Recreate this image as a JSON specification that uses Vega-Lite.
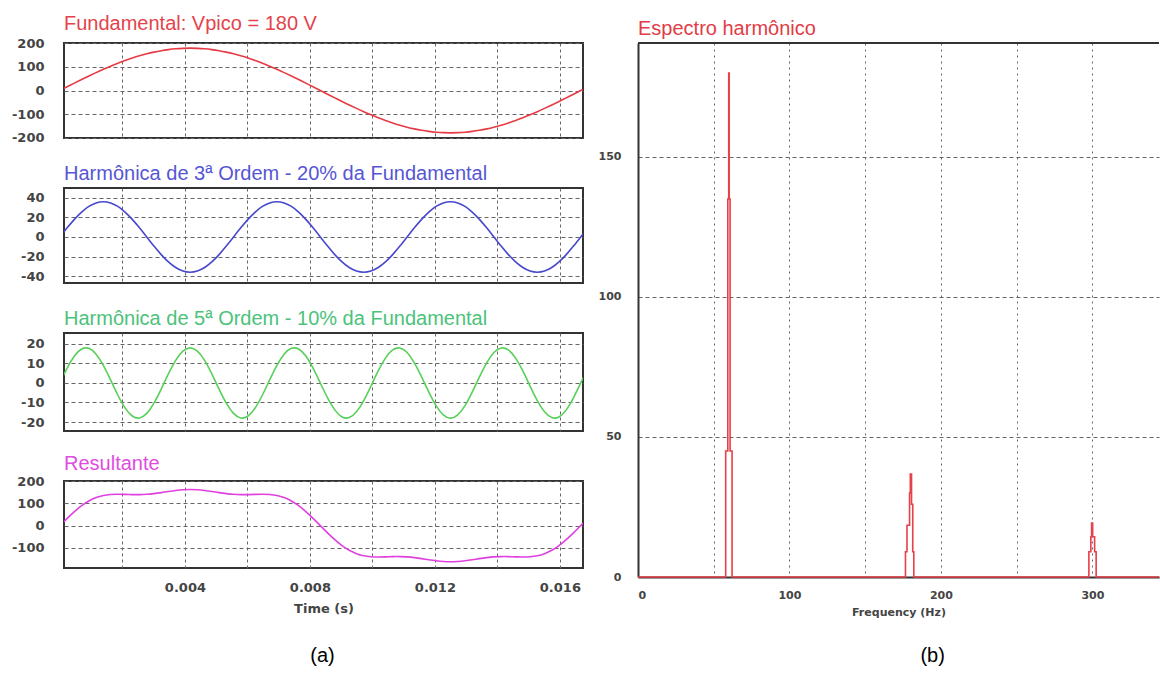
{
  "$schema": "https://vega.github.io/schema/vega-lite/v6.json",
  "background": "white",
  "padding": {"left": 5, "top": 13, "right": 0, "bottom": 5},
  "config": {
    "view": {"stroke": "#333", "strokeWidth": 2},
    "axis": {
      "domain": false,
      "ticks": false,
      "tickSize": 0,
      "grid": true,
      "gridColor": "#666",
      "gridWidth": 1,
      "gridDash": [4, 3],
      "labelFont": "DejaVu Sans",
      "labelFontWeight": "bold",
      "labelFontSize": 13,
      "labelColor": "#444",
      "titleFont": "DejaVu Sans",
      "titleFontWeight": "bold",
      "titleFontSize": 13,
      "titleColor": "#444"
    },
    "axisY": {"labelPadding": 20, "minExtent": 58, "maxExtent": 58},
    "title": {
      "font": "Liberation Sans",
      "fontSize": 20,
      "fontWeight": "normal",
      "anchor": "start",
      "frame": "group",
      "baseline": "alphabetic"
    }
  },
  "datasets": {
    "wave": [
      {"t": 0, "fund": 0, "h3": 0, "h5": 0, "res": 0},
      {"t": 0.000231, "fund": 15.69, "h3": 9.32, "h5": 7.61, "res": 32.62},
      {"t": 0.000463, "fund": 31.26, "h3": 18, "h5": 13.79, "res": 63.05},
      {"t": 0.000694, "fund": 46.59, "h3": 25.46, "h5": 17.39, "res": 89.44},
      {"t": 0.000926, "fund": 61.56, "h3": 31.18, "h5": 17.73, "res": 110.47},
      {"t": 0.001157, "fund": 76.07, "h3": 34.77, "h5": 14.75, "res": 125.59},
      {"t": 0.001389, "fund": 90, "h3": 36, "h5": 9, "res": 135},
      {"t": 0.00162, "fund": 103.24, "h3": 34.77, "h5": 1.57, "res": 139.58},
      {"t": 0.001852, "fund": 115.7, "h3": 31.18, "h5": -6.16, "res": 140.72},
      {"t": 0.002083, "fund": 127.28, "h3": 25.46, "h5": -12.73, "res": 140.01},
      {"t": 0.002315, "fund": 137.89, "h3": 18, "h5": -16.91, "res": 138.98},
      {"t": 0.002546, "fund": 147.45, "h3": 9.32, "h5": -17.93, "res": 138.84},
      {"t": 0.002778, "fund": 155.88, "h3": 0, "h5": -15.59, "res": 140.29},
      {"t": 0.003009, "fund": 163.14, "h3": -9.32, "h5": -10.32, "res": 143.5},
      {"t": 0.003241, "fund": 169.14, "h3": -18, "h5": -3.13, "res": 148.01},
      {"t": 0.003472, "fund": 173.87, "h3": -25.46, "h5": 4.66, "res": 153.07},
      {"t": 0.003704, "fund": 177.27, "h3": -31.18, "h5": 11.57, "res": 157.66},
      {"t": 0.003935, "fund": 179.31, "h3": -34.77, "h5": 16.31, "res": 160.85},
      {"t": 0.004167, "fund": 180, "h3": -36, "h5": 18, "res": 162},
      {"t": 0.004398, "fund": 179.31, "h3": -34.77, "h5": 16.31, "res": 160.85},
      {"t": 0.00463, "fund": 177.27, "h3": -31.18, "h5": 11.57, "res": 157.66},
      {"t": 0.004861, "fund": 173.87, "h3": -25.46, "h5": 4.66, "res": 153.07},
      {"t": 0.005093, "fund": 169.14, "h3": -18, "h5": -3.13, "res": 148.01},
      {"t": 0.005324, "fund": 163.14, "h3": -9.32, "h5": -10.32, "res": 143.5},
      {"t": 0.005556, "fund": 155.88, "h3": 0, "h5": -15.59, "res": 140.29},
      {"t": 0.005787, "fund": 147.45, "h3": 9.32, "h5": -17.93, "res": 138.84},
      {"t": 0.006019, "fund": 137.89, "h3": 18, "h5": -16.91, "res": 138.98},
      {"t": 0.00625, "fund": 127.28, "h3": 25.46, "h5": -12.73, "res": 140.01},
      {"t": 0.006481, "fund": 115.7, "h3": 31.18, "h5": -6.16, "res": 140.72},
      {"t": 0.006713, "fund": 103.24, "h3": 34.77, "h5": 1.57, "res": 139.58},
      {"t": 0.006944, "fund": 90, "h3": 36, "h5": 9, "res": 135},
      {"t": 0.007176, "fund": 76.07, "h3": 34.77, "h5": 14.75, "res": 125.59},
      {"t": 0.007407, "fund": 61.56, "h3": 31.18, "h5": 17.73, "res": 110.47},
      {"t": 0.007639, "fund": 46.59, "h3": 25.46, "h5": 17.39, "res": 89.44},
      {"t": 0.00787, "fund": 31.26, "h3": 18, "h5": 13.79, "res": 63.05},
      {"t": 0.008102, "fund": 15.69, "h3": 9.32, "h5": 7.61, "res": 32.62},
      {"t": 0.008333, "fund": 0, "h3": 0, "h5": 0, "res": 0},
      {"t": 0.008565, "fund": -15.69, "h3": -9.32, "h5": -7.61, "res": -32.62},
      {"t": 0.008796, "fund": -31.26, "h3": -18, "h5": -13.79, "res": -63.05},
      {"t": 0.009028, "fund": -46.59, "h3": -25.46, "h5": -17.39, "res": -89.44},
      {"t": 0.009259, "fund": -61.56, "h3": -31.18, "h5": -17.73, "res": -110.47},
      {"t": 0.009491, "fund": -76.07, "h3": -34.77, "h5": -14.75, "res": -125.59},
      {"t": 0.009722, "fund": -90, "h3": -36, "h5": -9, "res": -135},
      {"t": 0.009954, "fund": -103.24, "h3": -34.77, "h5": -1.57, "res": -139.58},
      {"t": 0.010185, "fund": -115.7, "h3": -31.18, "h5": 6.16, "res": -140.72},
      {"t": 0.010417, "fund": -127.28, "h3": -25.46, "h5": 12.73, "res": -140.01},
      {"t": 0.010648, "fund": -137.89, "h3": -18, "h5": 16.91, "res": -138.98},
      {"t": 0.01088, "fund": -147.45, "h3": -9.32, "h5": 17.93, "res": -138.84},
      {"t": 0.011111, "fund": -155.88, "h3": 0, "h5": 15.59, "res": -140.29},
      {"t": 0.011343, "fund": -163.14, "h3": 9.32, "h5": 10.32, "res": -143.5},
      {"t": 0.011574, "fund": -169.14, "h3": 18, "h5": 3.13, "res": -148.01},
      {"t": 0.011806, "fund": -173.87, "h3": 25.46, "h5": -4.66, "res": -153.07},
      {"t": 0.012037, "fund": -177.27, "h3": 31.18, "h5": -11.57, "res": -157.66},
      {"t": 0.012269, "fund": -179.31, "h3": 34.77, "h5": -16.31, "res": -160.85},
      {"t": 0.0125, "fund": -180, "h3": 36, "h5": -18, "res": -162},
      {"t": 0.012731, "fund": -179.31, "h3": 34.77, "h5": -16.31, "res": -160.85},
      {"t": 0.012963, "fund": -177.27, "h3": 31.18, "h5": -11.57, "res": -157.66},
      {"t": 0.013194, "fund": -173.87, "h3": 25.46, "h5": -4.66, "res": -153.07},
      {"t": 0.013426, "fund": -169.14, "h3": 18, "h5": 3.13, "res": -148.01},
      {"t": 0.013657, "fund": -163.14, "h3": 9.32, "h5": 10.32, "res": -143.5},
      {"t": 0.013889, "fund": -155.88, "h3": 0, "h5": 15.59, "res": -140.29},
      {"t": 0.01412, "fund": -147.45, "h3": -9.32, "h5": 17.93, "res": -138.84},
      {"t": 0.014352, "fund": -137.89, "h3": -18, "h5": 16.91, "res": -138.98},
      {"t": 0.014583, "fund": -127.28, "h3": -25.46, "h5": 12.73, "res": -140.01},
      {"t": 0.014815, "fund": -115.7, "h3": -31.18, "h5": 6.16, "res": -140.72},
      {"t": 0.015046, "fund": -103.24, "h3": -34.77, "h5": -1.57, "res": -139.58},
      {"t": 0.015278, "fund": -90, "h3": -36, "h5": -9, "res": -135},
      {"t": 0.015509, "fund": -76.07, "h3": -34.77, "h5": -14.75, "res": -125.59},
      {"t": 0.015741, "fund": -61.56, "h3": -31.18, "h5": -17.73, "res": -110.47},
      {"t": 0.015972, "fund": -46.59, "h3": -25.46, "h5": -17.39, "res": -89.44},
      {"t": 0.016204, "fund": -31.26, "h3": -18, "h5": -13.79, "res": -63.05},
      {"t": 0.016435, "fund": -15.69, "h3": -9.32, "h5": -7.61, "res": -32.62},
      {"t": 0.016667, "fund": 0, "h3": 0, "h5": 0, "res": 0},
      {"t": 0.016898, "fund": 15.69, "h3": 9.32, "h5": 7.61, "res": 32.62}
    ],
    "spectrum": [
      {"f": 0, "a": 0},
      {"f": 57.9, "a": 45},
      {"f": 59.3, "a": 135},
      {"f": 59.9, "a": 180},
      {"f": 60.2, "a": 135},
      {"f": 60.8, "a": 45},
      {"f": 62.1, "a": 0},
      {"f": 176.6, "a": 9},
      {"f": 177.6, "a": 18.5},
      {"f": 179.3, "a": 30},
      {"f": 179.8, "a": 36.8},
      {"f": 180.6, "a": 26},
      {"f": 181.4, "a": 9},
      {"f": 182.1, "a": 0},
      {"f": 297.7, "a": 9},
      {"f": 299, "a": 14.4},
      {"f": 299.5, "a": 19.3},
      {"f": 300.2, "a": 14.4},
      {"f": 301.5, "a": 9},
      {"f": 302.5, "a": 0},
      {"f": 344, "a": 0}
    ]
  },
  "spacing": 13,
  "hconcat": [
    {
      "spacing": 50,
      "bounds": "flush",
      "title": {"text": "(a)", "orient": "bottom", "anchor": "middle", "frame": "bounds", "baseline": "top", "offset": 30, "dx": 28, "fontSize": 20, "color": "#000"},
      "vconcat": [
        {
          "width": 519,
          "height": 95,
          "title": {"text": "Fundamental: Vpico = 180 V", "color": "#e4434c", "offset": 3},
          "data": {"name": "wave"},
          "mark": {"type": "line", "color": "#e63a44", "strokeWidth": 1.6, "interpolate": "natural", "clip": true},
          "encoding": {
            "x": {
              "field": "t", "type": "quantitative",
              "scale": {"domain": [0.00013, 0.01674], "nice": false, "zero": false},
              "axis": {"values": [0.002, 0.004, 0.006, 0.008, 0.01, 0.012, 0.014, 0.016], "labels": false, "title": null, "gridDash": [3, 3], "minExtent": 0, "maxExtent": 0}
            },
            "y": {
              "field": "fund", "type": "quantitative",
              "scale": {"domain": [-202, 202], "nice": false},
              "axis": {"values": [-200, -100, 0, 100, 200], "labelExpr": "replace(datum.label, '−', '-')", "title": null}
            }
          }
        },
        {
          "width": 519,
          "height": 95,
          "title": {"text": "Harmônica de 3ª Ordem - 20% da Fundamental", "color": "#5656d4", "offset": 4},
          "data": {"name": "wave"},
          "mark": {"type": "line", "color": "#4848cc", "strokeWidth": 1.6, "interpolate": "natural", "clip": true},
          "encoding": {
            "x": {
              "field": "t", "type": "quantitative",
              "scale": {"domain": [0.00013, 0.01674], "nice": false, "zero": false},
              "axis": {"values": [0.002, 0.004, 0.006, 0.008, 0.01, 0.012, 0.014, 0.016], "labels": false, "title": null, "gridDash": [3, 3], "minExtent": 0, "maxExtent": 0}
            },
            "y": {
              "field": "h3", "type": "quantitative",
              "scale": {"domain": [-47, 50], "nice": false},
              "axis": {"values": [-40, -20, 0, 20, 40], "labelExpr": "replace(datum.label, '−', '-')", "title": null}
            }
          }
        },
        {
          "width": 519,
          "height": 98,
          "title": {"text": "Harmônica de 5ª Ordem - 10% da Fundamental", "color": "#4cc27a", "offset": 4},
          "data": {"name": "wave"},
          "mark": {"type": "line", "color": "#58d058", "strokeWidth": 1.6, "interpolate": "natural", "clip": true},
          "encoding": {
            "x": {
              "field": "t", "type": "quantitative",
              "scale": {"domain": [0.00013, 0.01674], "nice": false, "zero": false},
              "axis": {"values": [0.002, 0.004, 0.006, 0.008, 0.01, 0.012, 0.014, 0.016], "labels": false, "title": null, "gridDash": [3, 3], "minExtent": 0, "maxExtent": 0}
            },
            "y": {
              "field": "h5", "type": "quantitative",
              "scale": {"domain": [-24.6, 25.6], "nice": false},
              "axis": {"values": [-20, -10, 0, 10, 20], "labelExpr": "replace(datum.label, '−', '-')", "title": null}
            }
          }
        },
        {
          "width": 519,
          "height": 87,
          "title": {"text": "Resultante", "color": "#e04ce0", "offset": 1},
          "data": {"name": "wave"},
          "mark": {"type": "line", "color": "#e040e0", "strokeWidth": 1.6, "interpolate": "natural", "clip": true},
          "encoding": {
            "x": {
              "field": "t", "type": "quantitative",
              "scale": {"domain": [0.00013, 0.01674], "nice": false, "zero": false},
              "axis": {
                "values": [0.002, 0.004, 0.006, 0.008, 0.01, 0.012, 0.014, 0.016],
                "labelExpr": "round(datum.value * 1000) % 4 == 0 ? format(datum.value, '.3f') : ''",
                "labelPadding": 13,
                "title": "Time (s)",
                "titlePadding": 8,
                "gridDash": [3, 3]
              }
            },
            "y": {
              "field": "res", "type": "quantitative",
              "scale": {"domain": [-190, 200], "nice": false},
              "axis": {"values": [-100, 0, 100, 200], "labelExpr": "replace(datum.label, '−', '-')", "title": null}
            }
          }
        }
      ]
    },
    {
      "title": {"text": "(b)", "orient": "bottom", "anchor": "middle", "frame": "bounds", "baseline": "top", "offset": 29, "dx": 53, "fontSize": 20, "color": "#000"},
      "vconcat": [
        {
          "width": 521,
          "height": 534,
          "title": {"text": "Espectro harmônico", "color": "#e23c46", "offset": 3},
          "view": {"stroke": null},
          "layer": [
            {
              "data": {"values": [{}]},
              "mark": {"type": "rule", "color": "#333", "strokeWidth": 2},
              "encoding": {
                "y": {"datum": 190.7, "type": "quantitative", "scale": {"domain": [0, 190.7], "nice": false}}
              }
            },
            {
              "data": {"name": "spectrum"},
              "mark": {"type": "line", "color": "#e6404a", "strokeWidth": 1.6, "interpolate": "step-after"},
              "encoding": {
                "x": {
                  "field": "f", "type": "quantitative",
                  "scale": {"domain": [0, 344], "nice": false, "zero": false},
                  "axis": {
                    "values": [0, 50, 100, 150, 200, 250, 300],
                    "labelExpr": "datum.value % 100 == 0 ? datum.label : ''",
                    "domain": true, "domainColor": "#333", "domainWidth": 2,
                    "grid": true,
                    "gridDash": [2, 4],
                    "labelFontSize": 11,
                    "labelPadding": 12,
                    "title": "Frequency (Hz)",
                    "titleFontSize": 11,
                    "titlePadding": 6
                  }
                },
                "y": {
                  "field": "a", "type": "quantitative",
                  "scale": {"domain": [0, 190.7], "nice": false},
                  "axis": {
                    "values": [0, 50, 100, 150],
                    "title": null,
                    "domain": true, "domainColor": "#333", "domainWidth": 2,
                    "grid": true,
                    "gridDash": [4, 3],
                    "labelFontSize": 11,
                    "labelPadding": 17,
                    "minExtent": 41, "maxExtent": 41
                  }
                }
              }
            }
          ]
        }
      ]
    }
  ]
}
